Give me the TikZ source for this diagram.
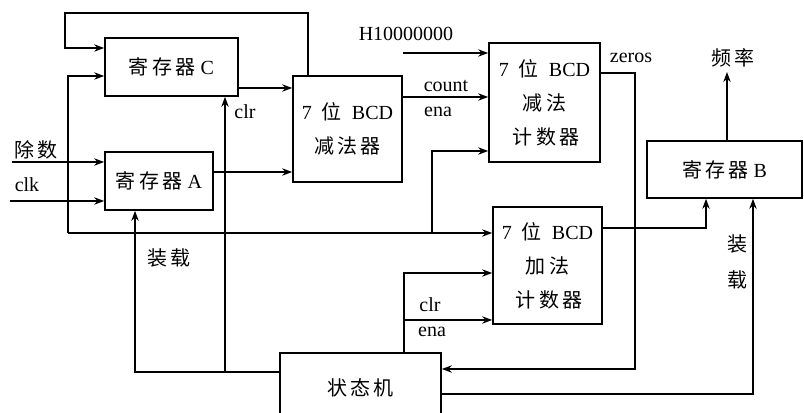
\documentclass[tikz,border=0pt]{standalone}
\usepackage{fontspec}
\setmainfont{Liberation Serif}
\newfontfamily\cjk{Noto Sans CJK SC}
\usetikzlibrary{arrows.meta}
\begin{document}
\begin{tikzpicture}[x=0.75pt,y=-0.75pt,
  every node/.style={font=\fontsize{15}{25.5}\selectfont},
  box/.style={draw, line width=1.2pt, inner sep=0pt, align=center},
  wire/.style={line width=1.2pt},
  arr/.style={wire, -{Stealth[length=7.5pt,width=5.5pt]}},
  lbl/.style={inner sep=0pt}]
\useasboundingbox (0,0) rectangle (804,413);
\clip (0,0) rectangle (804,413);
% blocks
\node[box, minimum width={133*0.75pt}, minimum height={58*0.75pt}] (C) at (171.5,67) {{\cjk 寄\,存\,器} C};
\node[box, minimum width={108*0.75pt}, minimum height={58*0.75pt}] (A) at (159,181) {{\cjk 寄\,存\,器} A};
\node[box, minimum width={109*0.75pt}, minimum height={106*0.75pt}] (SUB) at (347.5,129) {7\enspace{\cjk 位}\enspace BCD\\{\cjk 减\,法\,器}};
\node[box, minimum width={111*0.75pt}, minimum height={119*0.75pt}] (CNT) at (544.5,102.5) {7\enspace{\cjk 位}\enspace BCD\\{\cjk 减\,法}\\\,{\cjk 计\,数\,器}};
\node[box, minimum width={109*0.75pt}, minimum height={117*0.75pt}] (ADD) at (547.5,265.5) {7\enspace{\cjk 位}\enspace BCD\\{\cjk 加\,法}\\\,{\cjk 计\,数\,器}};
\node[box, minimum width={155*0.75pt}, minimum height={57*0.75pt}] (B) at (724.5,169.5) {{\cjk 寄\,存\,器} B};
\node[box, minimum width={161*0.75pt}, minimum height={70*0.75pt}] (FSM) at (360.5,388) {{\cjk 状\,态\,机}};
% free ends
\coordinate (inDiv) at (12,162);
\coordinate (inClk) at (10,201);
\coordinate (inH) at (403,53);
\coordinate (outF) at (727,72);
% connectors
\draw[arr] (SUB.north -| 308,0) -- (308,13) -- (65,13) -- (65,48) -- (C.west |- 0,48);
\draw[arr] (68,233) -- (68,76) -- (C.west |- 0,76);
\draw[arr] (68,233) -- (ADD.west |- 0,233);
\draw[arr] (432,233) -- (432,151) -- (CNT.west |- 0,151);
\draw[arr] (C.east |- 0,88) -- (SUB.west |- 0,88);
\draw[arr] (A.east |- 0,172) -- (SUB.west |- 0,172);
\draw[arr] (inDiv) -- (A.west |- inDiv);
\draw[arr] (inClk) -- (A.west |- inClk);
\draw[arr] (FSM.west |- 0,372) -- (225,372) -- (C.south -| 225,0);
\draw[arr] (225,372) -- (135,372) -- (A.south -| 135,0);
\draw[arr] (SUB.east |- 0,97) -- (CNT.west |- 0,97);
\draw[arr] (inH) -- (CNT.west |- inH);
\draw[arr] (CNT.east |- 0,73) -- (635,73) -- (635,369) -- (FSM.east |- 0,369);
\draw[arr] (FSM.north -| 404,0) -- (404,273) -- (ADD.west |- 0,273);
\draw[arr] (404,320) -- (ADD.west |- 0,320);
\draw[arr] (ADD.east |- 0,228) -- (706,228) -- (B.south -| 706,0);
\draw[arr] (FSM.east |- 0,394) -- (753,394) -- (B.south -| 753,0);
\draw[arr] (B.north -| outF) -- (outF);
% labels
\node[lbl] (lDiv) at (36,150) {\cjk 除\,数};
\node[lbl, anchor=base] (lClk) at (27,192) {clk};
\node[lbl, anchor=base] (lClr1) at (245,119) {clr};
\node[lbl, anchor=base] (lH) at (406,41) {H10000000};
\node[lbl, anchor=base] (lCount) at (446,92) {count};
\node[lbl, anchor=base] (lEna1) at (438,117) {ena};
\node[lbl, anchor=base] (lZeros) at (631,63) {zeros};
\node[lbl] (lFreq) at (733,58) {\cjk 频\,率};
\node[lbl] (lLoad1) at (169,258) {\cjk 装\,载};
\node[lbl] (lLoad2a) at (737.5,244) {\cjk 装};
\node[lbl] (lLoad2b) at (737.5,280) {\cjk 载};
\node[lbl, anchor=base] (lClr2) at (430,312) {clr};
\node[lbl, anchor=base] (lEna2) at (432,337) {ena};
\end{tikzpicture}
\end{document}
